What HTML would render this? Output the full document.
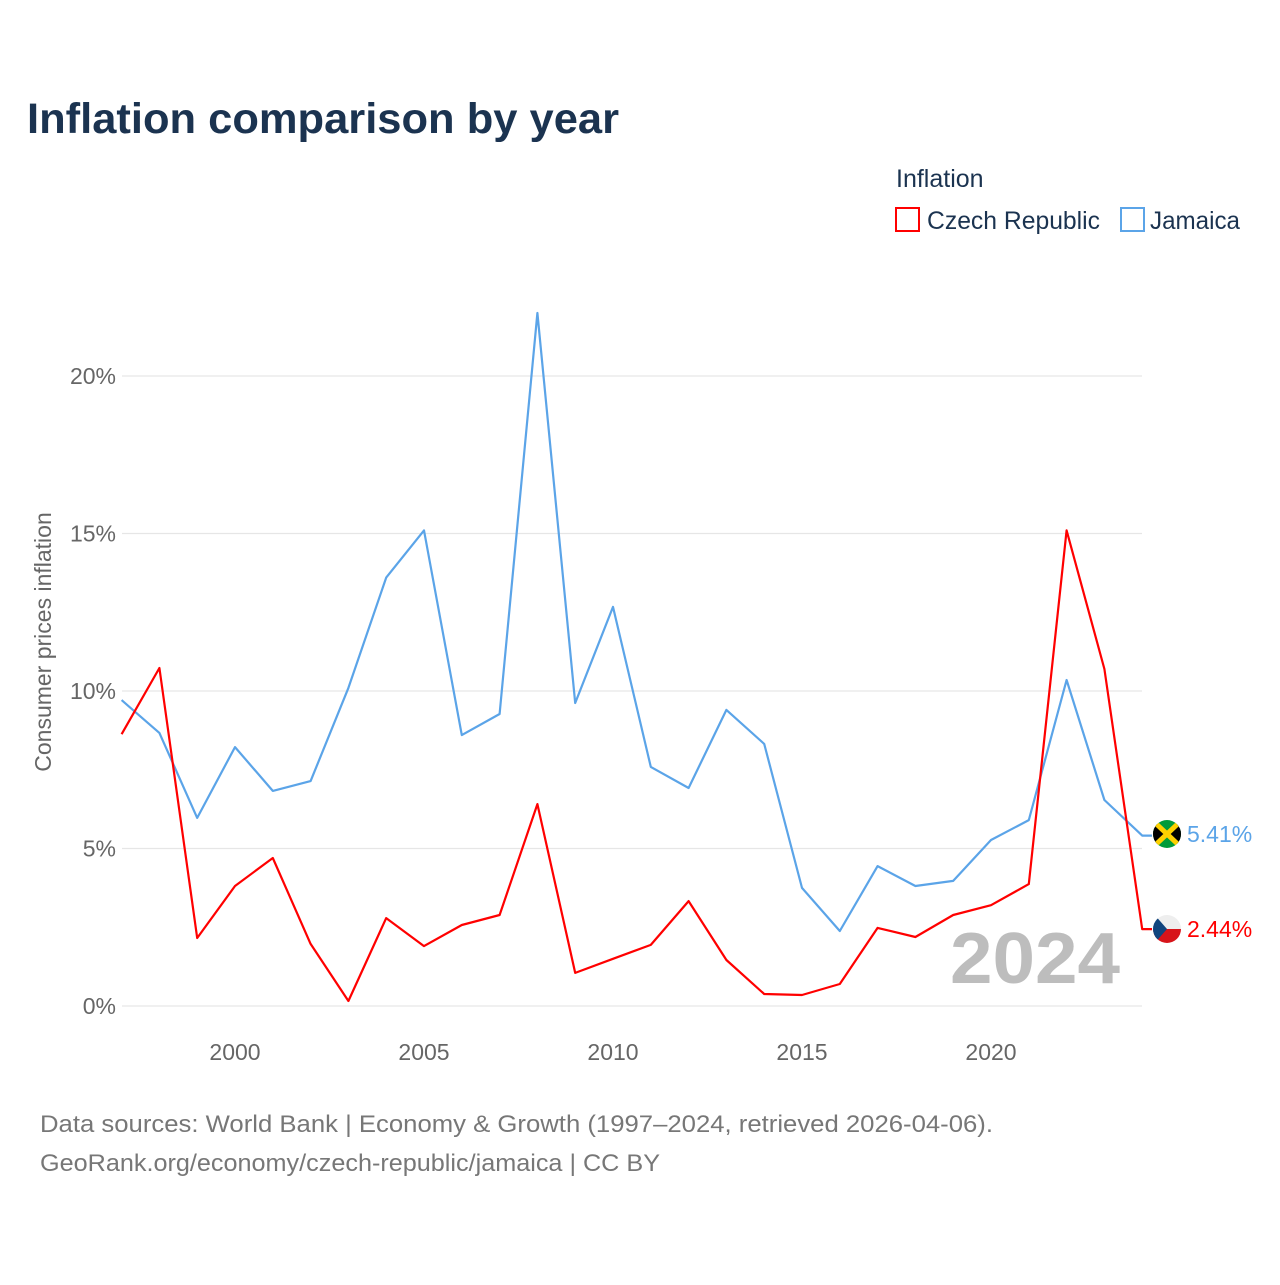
<!DOCTYPE html>
<html><head><meta charset="utf-8">
<style>
body{margin:0;background:#fff;font-family:"Liberation Sans",sans-serif;}
svg text{font-family:"Liberation Sans",sans-serif;}
</style></head>
<body>
<svg id="chart" width="1280" height="1280" viewBox="0 0 1280 1280">
<text x="27" y="133" font-size="43" font-weight="bold" fill="#1b3350" textLength="592" lengthAdjust="spacingAndGlyphs">Inflation comparison by year</text>
<text x="896" y="187" font-size="25" fill="#1b3350">Inflation</text>
<g>
<rect x="896" y="208" width="23" height="23" fill="none" stroke="#ff0000" stroke-width="2"/>
<text x="927" y="229" font-size="25" fill="#1b3350" textLength="173" lengthAdjust="spacingAndGlyphs">Czech Republic</text></g>
<g>
<rect x="1121" y="208" width="23" height="23" fill="none" stroke="#5ba4e8" stroke-width="2"/>
<text x="1150" y="229" font-size="25" fill="#1b3350" textLength="90" lengthAdjust="spacingAndGlyphs">Jamaica</text></g>
<text transform="translate(51,642) rotate(-90)" text-anchor="middle" font-size="23" fill="#666">Consumer prices inflation</text>
<g id="grid"></g><g id="xt"></g>
<text x="950" y="983" font-size="72" font-weight="bold" fill="#bdbdbd" textLength="170" lengthAdjust="spacingAndGlyphs">2024</text>
<g id="lines"></g>
<g>
<clipPath id="cj"><circle cx="1167" cy="834" r="14"/></clipPath>
<g clip-path="url(#cj)"><rect x="1150" y="818" width="34" height="32" fill="#009b3a"/>
<path d="M1153 820 L1167 834 L1153 848Z M1181 820 L1167 834 L1181 848Z" fill="#000"/>
<path d="M1150 818 L1184 850 M1184 818 L1150 850" stroke="#fed100" stroke-width="5"/></g></g>
<g>
<clipPath id="cc"><circle cx="1167" cy="929" r="14"/></clipPath>
<g clip-path="url(#cc)"><rect x="1150" y="913" width="34" height="16" fill="#eee"/><rect x="1150" y="929" width="34" height="16" fill="#d7141a"/>
<path d="M1153 913 L1167 929 L1153 945Z" fill="#11457e"/></g></g>
<text x="1187" y="842" font-size="23" fill="#5ba4e8">5.41%</text>
<text x="1187" y="937" font-size="23" fill="#ff0000">2.44%</text>
<text x="40" y="1132" font-size="24" fill="#777" textLength="953" lengthAdjust="spacingAndGlyphs">Data sources: World Bank | Economy &amp; Growth (1997–2024, retrieved 2026-04-06).</text>
<text x="40" y="1171" font-size="24" fill="#777" textLength="620" lengthAdjust="spacingAndGlyphs">GeoRank.org/economy/czech-republic/jamaica | CC BY</text>
</svg>
<script>
const years=[1997,1998,1999,2000,2001,2002,2003,2004,2005,2006,2007,2008,2009,2010,2011,2012,2013,2014,2015,2016,2017,2018,2019,2020,2021,2022,2023,2024];
const czech=[8.63,10.73,2.16,3.81,4.70,1.97,0.16,2.79,1.90,2.57,2.89,6.41,1.05,1.50,1.94,3.33,1.46,0.38,0.35,0.70,2.48,2.19,2.89,3.20,3.87,15.10,10.70,2.44];
const jamaica=[9.71,8.67,5.97,8.22,6.83,7.14,10.10,13.60,15.10,8.60,9.27,22.00,9.62,12.67,7.59,6.92,9.40,8.32,3.75,2.38,4.44,3.81,3.97,5.27,5.90,10.35,6.54,5.41];
const yTicks=[0,5,10,15,20];
const xTicks=[2000,2005,2010,2015,2020];
const NS='http://www.w3.org/2000/svg';
const X=y=>235+(y-2000)*37.8;
const Y=v=>1006-v*31.5;
const grid=document.getElementById('grid');
yTicks.forEach(t=>{
 const l=document.createElementNS(NS,'line');
 l.setAttribute('x1',122);l.setAttribute('x2',1142);l.setAttribute('y1',Y(t));l.setAttribute('y2',Y(t));
 l.setAttribute('stroke','#e6e6e6');l.setAttribute('stroke-width','1.2');
 
 
 grid.appendChild(l);
 const tx=document.createElementNS(NS,'text');
 tx.setAttribute('x',116);tx.setAttribute('y',Y(t)+8);tx.setAttribute('text-anchor','end');
 tx.setAttribute('font-size','23');tx.setAttribute('fill','#666');tx.textContent=t+'%';
 
 
 grid.appendChild(tx);
});
const xt=document.getElementById('xt');
xTicks.forEach(t=>{
 const tx=document.createElementNS(NS,'text');
 tx.setAttribute('x',X(t));tx.setAttribute('y',1060);tx.setAttribute('text-anchor','middle');
 tx.setAttribute('font-size','23');tx.setAttribute('fill','#666');tx.textContent=t;
 
 
 xt.appendChild(tx);
});
const lines=document.getElementById('lines');
function draw(vals,color,name){
 let d=vals.map((v,i)=>(i?'L':'M')+X(years[i]).toFixed(1)+' '+Y(v).toFixed(1)).join(' ');
 d+=' L1152 '+Y(vals[vals.length-1]).toFixed(1);
 const p=document.createElementNS(NS,'path');
 p.setAttribute('d',d);p.setAttribute('fill','none');p.setAttribute('stroke',color);p.setAttribute('stroke-width','2.2');
 p.setAttribute('stroke-linejoin','round');
 
 
 lines.appendChild(p);
}
draw(jamaica,'#5ba4e8','jamaica-line');
draw(czech,'#ff0000','czech-line');
</script>
</body></html>
